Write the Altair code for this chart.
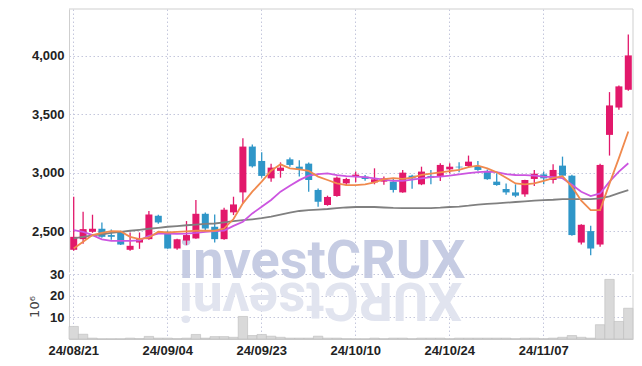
import altair as alt
import pandas as pd

dates = ["24/08/21","24/08/22","24/08/23","24/08/26","24/08/27","24/08/28","24/08/29","24/08/30",
         "24/09/02","24/09/03","24/09/04","24/09/05","24/09/06","24/09/09","24/09/10","24/09/11",
         "24/09/12","24/09/13","24/09/19","24/09/20","24/09/23","24/09/24","24/09/25","24/09/26",
         "24/09/27","24/09/30","24/10/02","24/10/04","24/10/07","24/10/08","24/10/10","24/10/11",
         "24/10/14","24/10/15","24/10/16","24/10/17","24/10/18","24/10/21","24/10/22","24/10/23",
         "24/10/24","24/10/25","24/10/28","24/10/29","24/10/30","24/10/31","24/11/01","24/11/04",
         "24/11/05","24/11/06","24/11/07","24/11/08","24/11/11","24/11/12","24/11/13","24/11/14",
         "24/11/15","24/11/18","24/11/19","24/11/20"]

opens = [2340,2431,2494,2520,2466,2494,2340,2402,2431,2631,2490,2351,2419,2437,2648,2537,2431,2660,2831,3223,
         3100,2951,3015,3114,3051,3077,2852,2723,2800,2908,2963,2966,2917,2923,2923,2831,2974,2900,2972,2972,
         3028,3051,3057,3057,3015,2923,2860,2831,2814,2946,2985,2937,3060,2974,2402,2500,2385,3323,3557,3709]
closes = [2451,2517,2520,2451,2451,2385,2374,2431,2642,2574,2351,2430,2466,2648,2522,2431,2683,2728,3223,3054,
          2972,3043,3043,3066,3023,2937,2751,2792,2957,2946,2983,2946,2943,2951,2852,3000,2951,3009,2957,3066,
          3051,3045,3094,3023,2944,2894,2831,2803,2937,2991,2951,3023,2974,2466,2554,2351,3066,3575,3738,4003]
highs = [2794,2666,2640,2574,2514,2503,2488,2488,2672,2640,2503,2434,2586,2766,2660,2642,2700,2794,3294,3240,
         3174,3077,3088,3129,3105,3086,2865,2803,2966,2957,3009,2980,3037,2966,2951,3023,2983,3051,3023,3080,
         3080,3088,3146,3100,3026,2994,2908,2900,2940,3023,3009,3071,3137,2983,2558,2545,3077,3689,3746,4181]
lows = [2331,2391,2485,2443,2425,2382,2331,2348,2425,2563,2348,2340,2380,2434,2494,2402,2425,2637,2737,3043,
        2957,2923,2957,3051,2966,2837,2708,2717,2794,2888,2917,2931,2900,2897,2831,2828,2863,2893,2900,2929,
        2994,3003,3043,3017,2940,2888,2811,2790,2794,2886,2900,2908,2966,2460,2385,2294,2365,3146,3538,3701]

ma_short = [2351,2408,2466,2485,2500,2497,2451,2431,2443,2494,2488,2494,2498,2503,2503,2503,2522,2603,2737,2837,
            2923,3017,3071,3037,3028,3015,2966,2937,2908,2894,2894,2900,2917,2944,2953,2946,2957,2980,2991,3003,
            3013,3023,3047,3060,3037,3003,2957,2908,2900,2908,2929,2953,2970,2880,2760,2680,2680,2906,3124,3352]
ma_mid = [2509,2494,2466,2430,2417,2417,2417,2421,2460,2479,2479,2477,2479,2485,2494,2500,2505,2545,2580,2651,
          2708,2766,2837,2888,2936,2974,2987,2994,2979,2970,2966,2961,2951,2940,2929,2929,2940,2951,2961,2966,
          2974,2985,2995,3004,3009,3004,2987,2980,2979,2974,2966,2961,2953,2897,2837,2800,2822,2923,3009,3080]
ma_long = [2437,2451,2464,2473,2485,2494,2503,2511,2520,2528,2537,2543,2550,2556,2561,2565,2575,2586,2593,2601,
           2610,2623,2640,2657,2672,2680,2684,2689,2696,2702,2706,2708,2706,2702,2698,2696,2696,2697,2697,2700,
           2706,2710,2717,2726,2732,2737,2743,2749,2755,2760,2765,2768,2773,2774,2773,2774,2780,2798,2824,2850]

volume_m = [5.8,2.2,0.4,0.1,0.1,0.1,0.4,0.2,1.2,0.4,0.4,0.2,0.4,2.1,0.4,1.1,1.1,0.8,10.4,1.6,
            2.1,1.3,0.8,0.4,0.4,0.4,1.3,0.4,0.4,0.15,0.1,0.1,0.4,0.15,0.4,0.4,0.15,0.4,0.4,0.4,
            0.15,0.4,0.4,0.4,0.4,0.4,0.4,0.15,0.4,0.4,0.15,0.4,0.8,1.6,0.8,0.4,6.6,27.5,8.1,14.2]

tick_dates = dates[::10]
price_ticks = [2500, 3000, 3500, 4000]
volume_ticks = [10, 20, 30]
watermark = "investCRUX"
volume_unit = "10\u2076"

df = pd.DataFrame({
    "date": dates, "open": opens, "high": highs, "low": lows, "close": closes,
    "ma5": ma_short, "ma20": ma_mid, "ma60": ma_long, "vol": volume_m,
})
df["dir"] = ["up" if c >= o else "down" for o, c in zip(opens, closes)]

W = 564
H_PRICE = 263
H_VOL = 65
GRID = "#c4c7dc"
DASH = [1.5, 2.5]
FRAME = "#cfcfcf"
LABEL_FONT = "'Liberation Sans', Arial, sans-serif"
WM_FONT = "Roboto, 'Liberation Sans', sans-serif"
WM_SIZE = 54
WM_X = 110

# reflected watermark: one glyph per row, each turned around its own centre
glyph_em = {"i": 0.252, "n": 0.553, "v": 0.496, "e": 0.532, "s": 0.516, "t": 0.328,
            "C": 0.654, "R": 0.627, "U": 0.652, "X": 0.632}
rows, acc = [], 0.0
for ch in watermark:
    w = glyph_em[ch] * WM_SIZE
    rows.append({"ch": ch, "cx": WM_X + acc + w / 2})
    acc += w
wm_chars = pd.DataFrame(rows)

xscale = alt.Scale(domain=dates, paddingInner=0, paddingOuter=0)
x_axis_price = alt.Axis(values=tick_dates, labels=False, ticks=False, domain=False, title=None,
                        grid=True, gridColor=GRID, gridDash=DASH, bandPosition=0.5)
y_axis_price = alt.Axis(values=price_ticks, format=",.0f", title=None, grid=True, gridColor=GRID,
                        gridDash=DASH, ticks=False, domain=True, domainColor=FRAME, labelPadding=5)
x_price = alt.X("date:O", sort=dates, scale=xscale, axis=x_axis_price)
yprice = alt.Scale(domain=[2150, 4400], nice=False, zero=False)

base = alt.Chart(df)

wm = alt.Chart(pd.DataFrame({"t": [watermark]})).mark_text(
    align="left", baseline="alphabetic", font=WM_FONT,
    fontWeight="bold", fontSize=WM_SIZE, color="#c6cce3"
).encode(x=alt.value(WM_X), y=alt.value(269), text="t:N")

wm_reflect = alt.Chart(wm_chars).mark_text(
    align="center", baseline="alphabetic", font=WM_FONT,
    fontWeight="bold", fontSize=WM_SIZE, color="#e1e4ef", angle=180
).encode(x=alt.X("cx:Q", scale=None), y=alt.value(9), text="ch:N")

color_scale = alt.Scale(domain=["up", "down"], range=["#e2186b", "#2f96c8"])

wick = base.mark_rule(strokeWidth=1.3).encode(
    x=x_price,
    y=alt.Y("low:Q", scale=yprice, axis=y_axis_price),
    y2="high:Q",
    color=alt.Color("dir:N", scale=color_scale, legend=None),
)
body = base.mark_bar(size=7).encode(
    x=x_price, y=alt.Y("open:Q", scale=yprice, axis=y_axis_price), y2="close:Q",
    color=alt.Color("dir:N", scale=color_scale, legend=None),
)

def ma_line(col, color):
    return base.mark_line(strokeWidth=1.8, color=color).encode(
        x=x_price, y=alt.Y(f"{col}:Q", scale=yprice, axis=y_axis_price))

top_rule = alt.Chart(pd.DataFrame({"a": [0]})).mark_rule(color=FRAME, strokeWidth=1).encode(
    x=alt.value(0), x2=alt.value(W), y=alt.value(0))
right_rule = alt.Chart(pd.DataFrame({"a": [0]})).mark_rule(color=FRAME, strokeWidth=1).encode(
    x=alt.value(W), y=alt.value(0), y2=alt.value(H_PRICE))

price = alt.layer(
    wm, wick, body,
    ma_line("ma60", "#808080"), ma_line("ma20", "#cc55e0"), ma_line("ma5", "#f08a4e"),
    top_rule, right_rule,
).properties(width=W, height=H_PRICE)

x_vol = alt.X("date:O", sort=dates, scale=xscale,
              axis=alt.Axis(values=tick_dates, title=None, ticks=False, domain=True, domainColor=FRAME,
                            labelAngle=0, labelPadding=5, grid=True, gridColor=GRID, gridDash=DASH,
                            bandPosition=0.5))

vol_bars = base.mark_bar(color="#d9d9d9", stroke="#bcbcbc", strokeWidth=0.6).encode(
    x=x_vol,
    y=alt.Y("vol:Q", scale=alt.Scale(domain=[0, 30], nice=False),
            axis=alt.Axis(values=volume_ticks, title=volume_unit, grid=True, gridColor=GRID,
                          gridDash=DASH, ticks=False, domain=True, domainColor=FRAME,
                          labelPadding=5, titlePadding=8, titleFont="DejaVu Sans",
                          titleFontWeight="normal", titleFontSize=13, titleColor="#444")),
)
right_rule_v = alt.Chart(pd.DataFrame({"a": [0]})).mark_rule(color=FRAME, strokeWidth=1).encode(
    x=alt.value(W), y=alt.value(0), y2=alt.value(H_VOL))

volume = alt.layer(wm_reflect, vol_bars, right_rule_v).properties(width=W, height=H_VOL)

chart = alt.vconcat(price, volume, spacing=2, bounds="flush").properties(
    padding={"left": 20, "top": 0, "right": 0, "bottom": 0}
).configure_view(stroke=None).configure_axis(
    labelFont=LABEL_FONT, labelFontSize=13, labelFontWeight="bold", labelColor="#222"
)

chart.save("out.html", embed_options={"renderer": "svg", "actions": False})
